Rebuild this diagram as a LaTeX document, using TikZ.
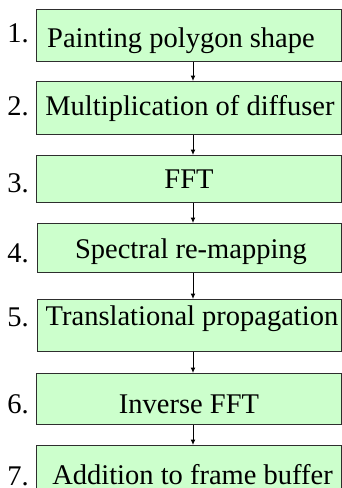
\documentclass[tikz,border=0pt]{standalone}
\usepackage{fontspec}
\setmainfont{Liberation Serif}
\usetikzlibrary{arrows.meta}
\definecolor{boxfill}{HTML}{CCFFCC}
\definecolor{boxline}{HTML}{2E2E2E}
\begin{document}
\begin{tikzpicture}[x=1pt,y=-1pt,
  stepbox/.style={draw=boxline, fill=boxfill, line width=1.2pt, anchor=north west, inner sep=0pt, minimum width=305pt},
  steptext/.style={anchor=base, inner sep=0pt, font=\fontsize{28.5}{30}\selectfont},
  numtext/.style={anchor=base east, inner sep=0pt, font=\fontsize{28.5}{30}\selectfont},
  arr/.style={line width=1pt, -{Latex[length=5.5pt,width=5pt]}}]
\useasboundingbox (0,0) rectangle (342,488);
\clip (0,0) rectangle (342,488);
\coordinate (ax) at (193,0);
% boxes
\node[stepbox, minimum height=52pt] (b1) at (36,9) {};
\node[stepbox, minimum height=53pt] (b2) at (36,81) {};
\node[stepbox, minimum height=47pt] (b3) at (36,155) {};
\node[stepbox, minimum height=49pt, minimum width=304pt] (b4) at (37,223) {};
\node[stepbox, minimum height=52pt, minimum width=304pt] (b5) at (37,299) {};
\node[stepbox, minimum height=51pt] (b6) at (36,373) {};
\node[stepbox, minimum height=55pt] (b7) at (36,445) {};
% texts
\node[steptext] (t1) at (181,47) {Painting polygon shape};
\node[steptext] (t2) at (190,115) {Multiplication of diffuser};
\node[steptext] (t3) at (189,188) {FFT};
\node[steptext] (t4) at (191,258) {Spectral re-mapping};
\node[steptext] (t5) at (192,325) {Translational propagation};
\node[steptext] (t6) at (189,413) {Inverse FFT};
\node[steptext] (t7) at (192.5,484) {Addition to frame buffer};
% numbers
\node[numtext] (n1) at (29,42) {1.};
\node[numtext] (n2) at (29,115) {2.};
\node[numtext] (n3) at (29,192) {3.};
\node[numtext] (n4) at (29,262) {4.};
\node[numtext] (n5) at (29,326) {5.};
\node[numtext] (n6) at (29,413) {6.};
\node[numtext] (n7) at (29,485) {7.};
% arrows
\draw[arr] (b1.south -| ax) -- (b2.north -| ax);
\draw[arr] (b2.south -| ax) -- (b3.north -| ax);
\draw[arr] (b3.south -| ax) -- (b4.north -| ax);
\draw[arr] (b4.south -| ax) -- (b5.north -| ax);
\draw[arr] (b5.south -| ax) -- (b6.north -| ax);
\draw[arr] (b6.south -| ax) -- (b7.north -| ax);
\end{tikzpicture}
\end{document}
